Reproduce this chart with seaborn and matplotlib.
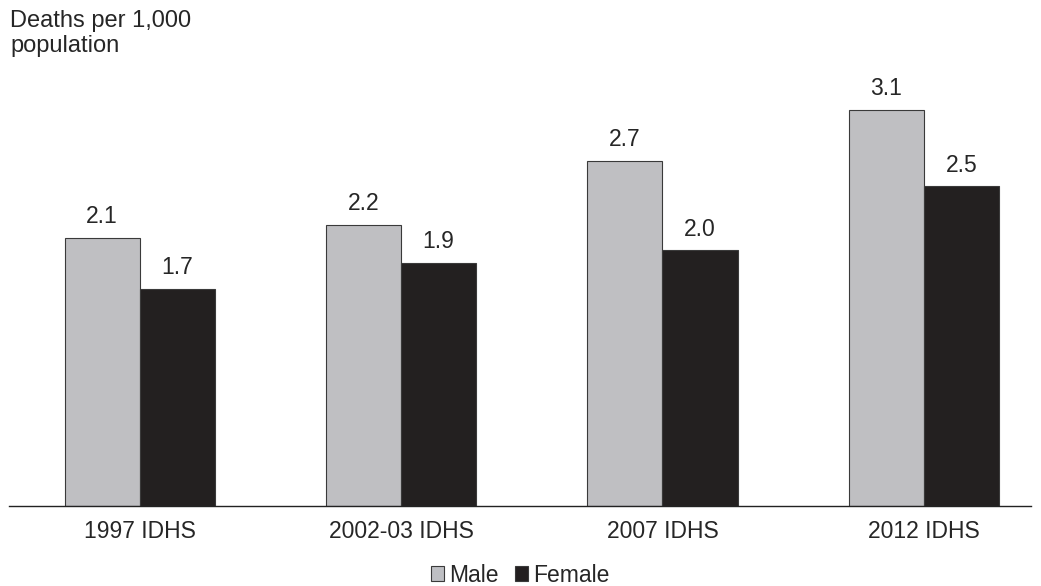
import pandas as pd
import matplotlib
matplotlib.use("Agg")
import matplotlib.pyplot as plt
import seaborn as sns
from matplotlib.patches import Patch

# Data
surveys = ["1997 IDHS", "2002-03 IDHS", "2007 IDHS", "2012 IDHS"]
male = [2.1, 2.2, 2.7, 3.1]
female = [1.7, 1.9, 2.0, 2.5]
sexes = ["Male", "Female"]
colors = ["#BEBFC3", "#231F20"]

df = pd.DataFrame({
    "Survey": surveys * 2,
    "Sex": ["Male"] * len(surveys) + ["Female"] * len(surveys),
    "Rate": male + female,
})

sns.set_style("white")
plt.rcParams["font.family"] = ["Liberation Sans", "DejaVu Sans"]

fig = plt.figure(figsize=(10.41, 5.86), dpi=100)
ax = fig.add_axes([9 / 1041, 1 - 506 / 586, 1022 / 1041, 0.76])

sns.barplot(data=df, x="Survey", y="Rate", hue="Sex", hue_order=sexes,
            palette=colors, width=0.575, edgecolor="#3a3a3a", linewidth=0.8,
            errorbar=None, legend=False, ax=ax)

for container in ax.containers:
    ax.bar_label(container, fmt="%.1f", padding=7, fontsize=16.5)

ax.set_xlim(-0.5, 3.41)
ax.set_ylim(0, (506 - 60) / 128)
ax.set_xlabel("")
ax.set_ylabel("")
ax.set_yticks([])
ax.tick_params(axis="x", length=0, labelsize=16.5, pad=10)
for side in ["top", "right", "left"]:
    ax.spines[side].set_visible(False)
ax.spines["bottom"].set_color("#222222")
ax.spines["bottom"].set_linewidth(1.0)

fig.text(10 / 1041, 1 - 10 / 586, "Deaths per 1,000\npopulation", ha="left", va="top",
         fontsize=17, linespacing=1.2)

handles = [Patch(facecolor=c, edgecolor="#3a3a3a", linewidth=0.8, label=s)
           for s, c in zip(sexes, colors)]
fig.legend(handles=handles, loc="center", bbox_to_anchor=(0.5, 1 - 575 / 586), ncol=2,
           frameon=False, fontsize=16.5, handlelength=0.55, handleheight=0.6,
           handletextpad=0.25, columnspacing=0.7, borderpad=0)

fig.savefig("out.png", dpi=100)
